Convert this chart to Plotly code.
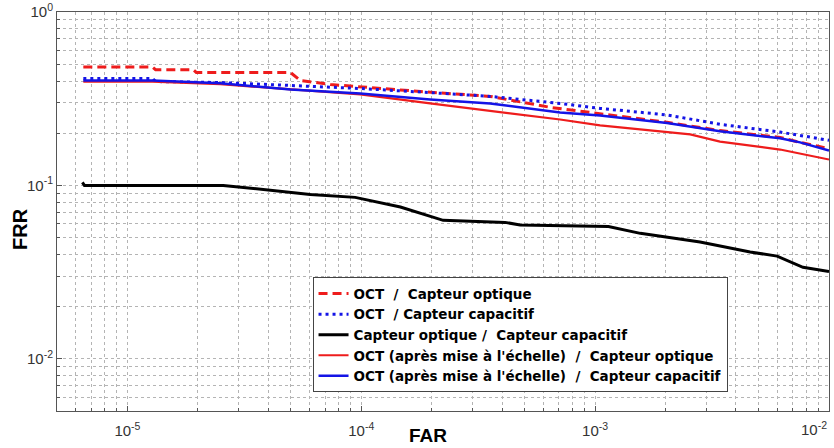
import plotly.graph_objects as go
import numpy as np

# ---- data ----
far_oct_opt = [6.48e-6, 1.28e-5, 1.32e-5, 1.91e-5, 1.97e-5, 4.98e-5, 5.48e-5, 7.37e-5, 1.79e-4, 3.56e-4, 6.43e-4, 1.05e-3, 2.03e-3, 3.42e-3, 6.18e-3, 7.52e-3, 1.0e-2]
frr_oct_opt = [0.482, 0.482, 0.465, 0.465, 0.448, 0.448, 0.403, 0.382, 0.348, 0.326, 0.282, 0.260, 0.231, 0.207, 0.189, 0.177, 0.163]

far_oct_cap = [6.48e-6, 1.28e-5, 1.32e-5, 2.5e-5, 4.98e-5, 9.9e-5, 1.97e-4, 3.56e-4, 7.08e-4, 1.05e-3, 2.03e-3, 3.42e-3, 6.18e-3, 1.0e-2]
frr_oct_cap = [0.414, 0.414, 0.397, 0.392, 0.377, 0.362, 0.343, 0.326, 0.297, 0.278, 0.255, 0.225, 0.203, 0.182]

far_opt_cap = [6.42e-6, 6.55e-6, 2.57e-5, 4.08e-5, 6.05e-5, 9.42e-5, 1.47e-4, 2.24e-4, 4.12e-4, 4.78e-4, 1.14e-3, 1.56e-3, 2.81e-3, 4.6e-3, 6.0e-3, 7.74e-3, 1.0e-2]
frr_opt_cap = [0.104, 0.100, 0.100, 0.0936, 0.0887, 0.0853, 0.075, 0.0629, 0.0612, 0.0592, 0.058, 0.0529, 0.0471, 0.0413, 0.0391, 0.0337, 0.0319]

far_scaled_opt = [6.48e-6, 1.28e-5, 2.5e-5, 4.98e-5, 9.9e-5, 1.97e-4, 3.56e-4, 7.08e-4, 1.05e-3, 2.03e-3, 2.55e-3, 3.42e-3, 6.18e-3, 1.0e-2]
frr_scaled_opt = [0.397, 0.397, 0.383, 0.357, 0.335, 0.297, 0.270, 0.240, 0.222, 0.202, 0.197, 0.179, 0.161, 0.141]

far_scaled_cap = [6.48e-6, 1.28e-5, 2.5e-5, 4.98e-5, 9.9e-5, 1.97e-4, 3.56e-4, 7.08e-4, 1.05e-3, 2.03e-3, 3.42e-3, 6.18e-3, 7.52e-3, 1.0e-2]
frr_scaled_cap = [0.403, 0.403, 0.388, 0.357, 0.339, 0.313, 0.297, 0.263, 0.253, 0.229, 0.205, 0.187, 0.177, 0.159]

names = [
    "OCT\u00a0\u00a0/\u00a0\u00a0Capteur optique",
    "OCT\u00a0\u00a0/\u00a0Capteur capacitif",
    "Capteur optique /\u00a0\u00a0Capteur capacitif",
    "OCT (après mise à l'échelle)\u00a0\u00a0/\u00a0\u00a0Capteur optique",
    "OCT (après mise à l'échelle)\u00a0\u00a0/\u00a0\u00a0Capteur capacitif",
]

x_major = [1e-5, 1e-4, 1e-3]
x_major_text = ["10<sup>-5</sup>", "10<sup>-4</sup>", "10<sup>-3</sup>"]
y_major = [1e-2, 1e-1, 1]
y_major_text = ["10<sup>-2</sup>", "10<sup>-1</sup>", "10<sup>0</sup>"]

RED = "#ee1c1c"
BLUE = "#1414e6"
FONT = "Liberation Sans, Arial, sans-serif"
LEGFONT = "DejaVu Sans, Liberation Sans, Arial, sans-serif"

fig = go.Figure()
fig.add_trace(go.Scatter(x=far_oct_opt, y=frr_oct_opt, mode="lines", name=names[0],
                         line=dict(color=RED, width=3, dash="9px,5px")))
fig.add_trace(go.Scatter(x=far_oct_cap, y=frr_oct_cap, mode="lines", name=names[1],
                         line=dict(color=BLUE, width=3, dash="3px,4px")))
fig.add_trace(go.Scatter(x=far_opt_cap, y=frr_opt_cap, mode="lines", name=names[2],
                         line=dict(color="black", width=3)))
fig.add_trace(go.Scatter(x=far_scaled_opt, y=frr_scaled_opt, mode="lines", name=names[3],
                         line=dict(color=RED, width=2.2)))
fig.add_trace(go.Scatter(x=far_scaled_cap, y=frr_scaled_cap, mode="lines", name=names[4],
                         line=dict(color=BLUE, width=2.5)))

minor_x = [m * 10.0 ** e for e in range(-6, -2) for m in range(2, 10)]
minor_y = [m * 10.0 ** e for e in range(-3, 0) for m in range(2, 10)]

axis_common = dict(
    type="log", showline=True, linecolor="#555", linewidth=1, mirror=True,
    ticks="inside", ticklen=5, tickcolor="#555",
    tickfont=dict(family=FONT, size=15, color="#333"),
    zeroline=False, showgrid=True, gridcolor="#b4b4b4", gridwidth=1, griddash="dot",
)

fig.update_layout(
    width=834, height=448,
    margin=dict(l=57, r=5, t=12, b=37, autoexpand=False),
    paper_bgcolor="white", plot_bgcolor="white",
    font=dict(family=FONT, color="black"),
    showlegend=True,
    legend=dict(
        x=0.331, y=0.335, xanchor="left", yanchor="top",
        bgcolor="white", bordercolor="#444", borderwidth=1,
        font=dict(family=LEGFONT, size=13.5, color="black", weight="bold"),
        tracegroupgap=0, itemwidth=30,
    ),
)
fig.update_xaxes(
    range=[np.log10(5e-6), -2], tickvals=x_major, ticktext=x_major_text,
    ticklabelstandoff=6,
    minor=dict(tickvals=minor_x, ticks="inside", ticklen=3, tickcolor="#555",
               showgrid=True, gridcolor="#b4b4b4", griddash="dot", gridwidth=1),
    **axis_common,
)
fig.update_yaxes(
    range=[np.log10(5e-3), 0], tickvals=y_major, ticktext=y_major_text,
    minor=dict(tickvals=minor_y, ticks="inside", ticklen=3, tickcolor="#555",
               showgrid=True, gridcolor="#b4b4b4", griddash="dot", gridwidth=1),
    **axis_common,
)

fig.add_annotation(x=-2, y=0, xref="x", yref="paper", yanchor="top", xanchor="right",
                   text="10<sup>-2</sup>", showarrow=False, yshift=-6,
                   font=dict(family=FONT, size=15, color="#333"))
fig.add_annotation(x=0.48, y=-0.0927, xref="paper", yref="paper", text="<b>FAR</b>",
                   xanchor="center", yanchor="bottom",
                   showarrow=False, font=dict(family=FONT, size=19, color="black"))
fig.add_annotation(x=-0.048, y=0.456, xref="paper", yref="paper", text="<b>FRR</b>",
                   xanchor="center", yanchor="middle",
                   textangle=-90, showarrow=False, font=dict(family=FONT, size=20, color="black"))

fig.write_html("out.html", config={"displayModeBar": False},
               post_script="document.body.style.margin='0';")
